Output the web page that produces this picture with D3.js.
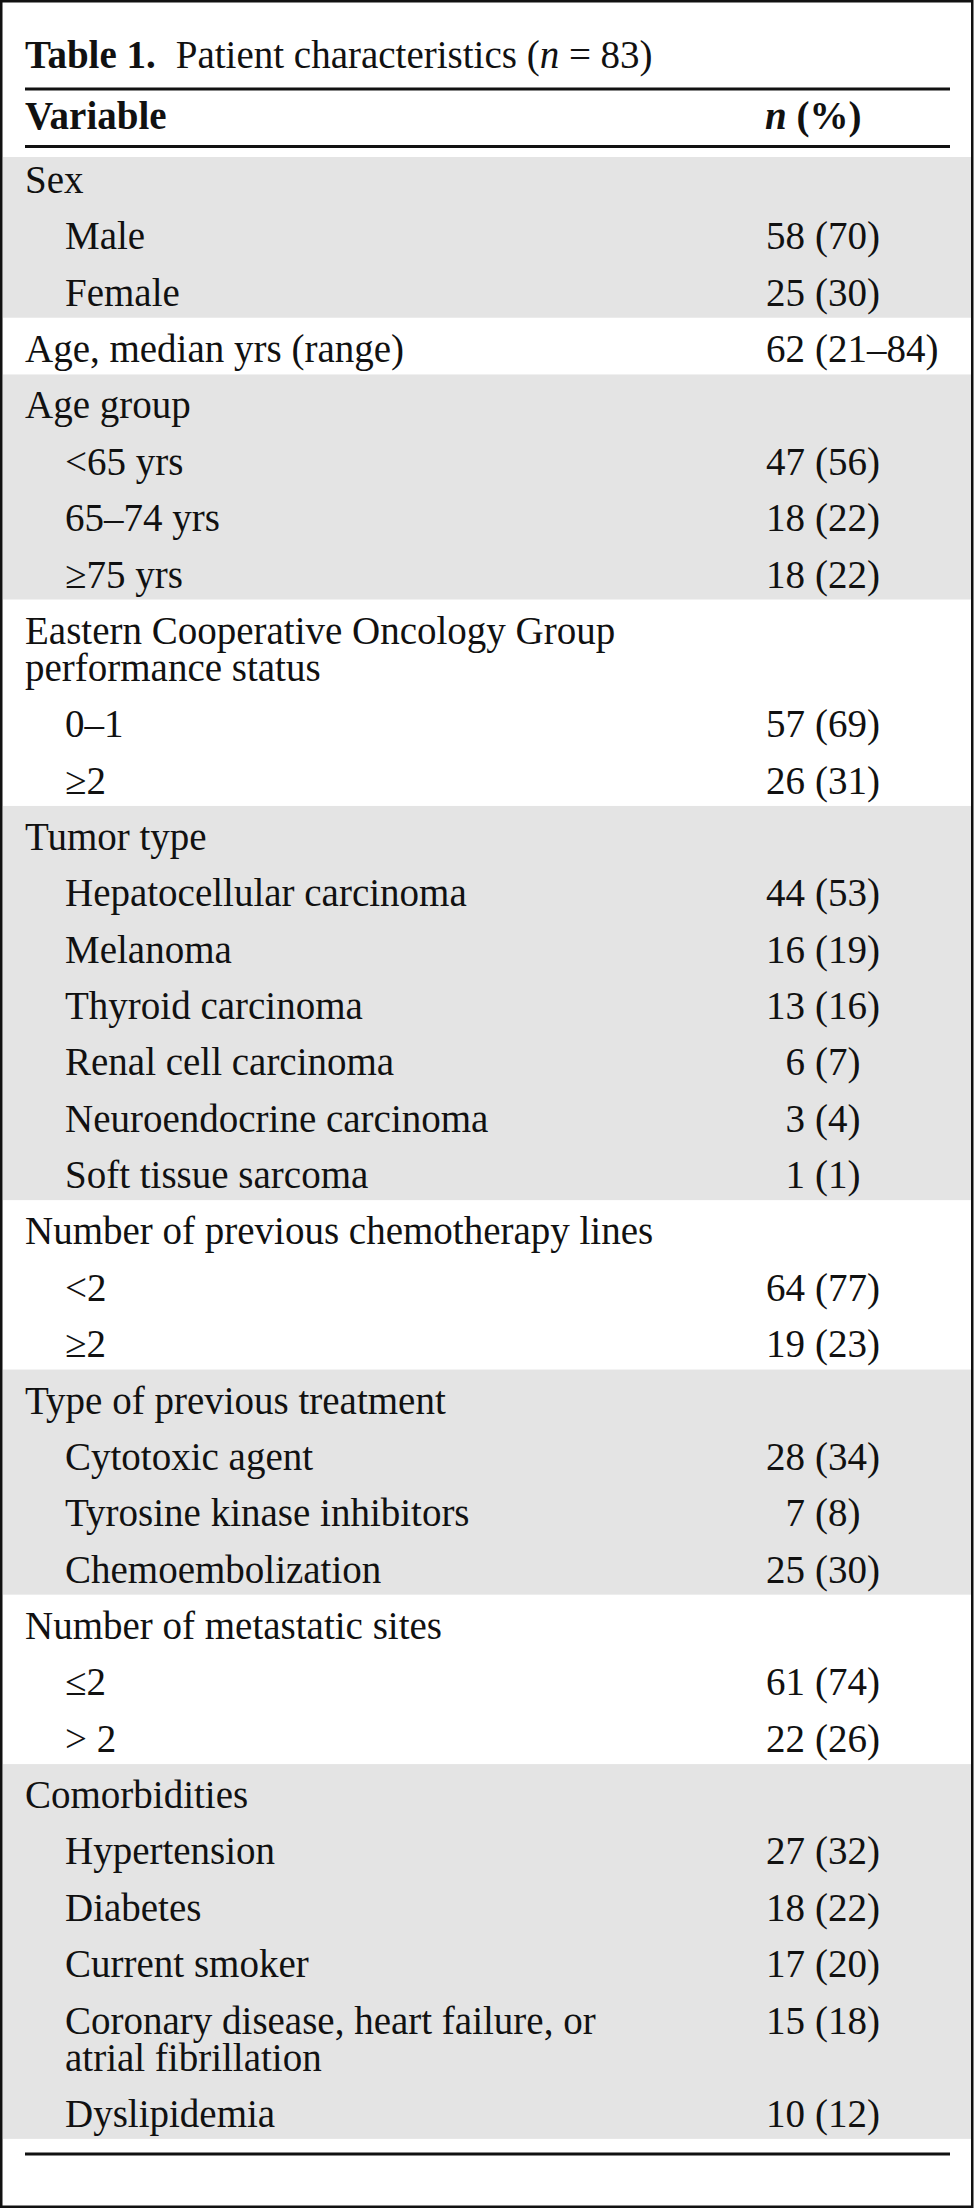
<!DOCTYPE html>
<html>
<head>
<meta charset="utf-8">
<script src="https://cdn.jsdelivr.net/npm/d3@7"></script>
<style>
  html, body { margin: 0; padding: 0; background: #fff; }
  svg { display: block; }
  text { font-family: "Liberation Serif", "Times New Roman", Times, serif; fill: #111; }
</style>
</head>
<body>
<svg id="chart" width="975" height="2208"></svg>
<script>
// ---------- data ----------
const titleBold = "Table 1.";
const titleText = "Patient characteristics (";
const titleN = "n";
const titleEnd = " = 83)";
const headerVariable = "Variable";
const headerValue = ["n", " (%)"];

const rowLabels = [
  "Sex", "Male", "Female",
  "Age, median yrs (range)",
  "Age group", "<65 yrs", "65–74 yrs", "≥75 yrs",
  "Eastern Cooperative Oncology Group\nperformance status", "0–1", "≥2",
  "Tumor type", "Hepatocellular carcinoma", "Melanoma", "Thyroid carcinoma",
  "Renal cell carcinoma", "Neuroendocrine carcinoma", "Soft tissue sarcoma",
  "Number of previous chemotherapy lines", "<2", "≥2",
  "Type of previous treatment", "Cytotoxic agent", "Tyrosine kinase inhibitors", "Chemoembolization",
  "Number of metastatic sites", "≤2", "> 2",
  "Comorbidities", "Hypertension", "Diabetes", "Current smoker",
  "Coronary disease, heart failure, or\natrial fibrillation", "Dyslipidemia"
];
const rowIndent = [
  0, 1, 1,
  0,
  0, 1, 1, 1,
  0, 1, 1,
  0, 1, 1, 1, 1, 1, 1,
  0, 1, 1,
  0, 1, 1, 1,
  0, 1, 1,
  0, 1, 1, 1, 1, 1
];
const rowGroup = [
  0, 0, 0,
  1,
  2, 2, 2, 2,
  3, 3, 3,
  4, 4, 4, 4, 4, 4, 4,
  5, 5, 5,
  6, 6, 6, 6,
  7, 7, 7,
  8, 8, 8, 8, 8, 8
];
const rowN = [
  "", "58", "25",
  "62",
  "", "47", "18", "18",
  "", "57", "26",
  "", "44", "16", "13", "6", "3", "1",
  "", "64", "19",
  "", "28", "7", "25",
  "", "61", "22",
  "", "27", "18", "17", "15", "10"
];
const rowPct = [
  "", "(70)", "(30)",
  "(21–84)",
  "", "(56)", "(22)", "(22)",
  "", "(69)", "(31)",
  "", "(53)", "(19)", "(16)", "(7)", "(4)", "(1)",
  "", "(77)", "(23)",
  "", "(34)", "(8)", "(30)",
  "", "(74)", "(26)",
  "", "(32)", "(22)", "(20)", "(18)", "(12)"
];
const groupShaded = [true, false, true, false, true, false, true, false, true];

// ---------- layout ----------
const W = 975, H = 2208;
const fontSize = 39;
const pitch = 56.36, lineGap = 37;
const xLabel = d3.scaleOrdinal().domain([0, 1]).range([25, 65]);
const xNumEnd = 805, xPctStart = 815;
const yRow = d3.scaleLinear().domain([0, 1]).range([193, 193 + pitch]);

const rows = rowLabels.map((lab, i) => ({
  lines: lab.split("\n"), indent: rowIndent[i], group: rowGroup[i], n: rowN[i], pct: rowPct[i]
}));
let extra = 0;
rows.forEach((r, i) => {
  r.y = yRow(i) + extra * lineGap;
  r.yLast = r.y + (r.lines.length - 1) * lineGap;
  extra += r.lines.length - 1;
});

const svg = d3.select("#chart");
svg.append("rect").attr("width", W).attr("height", H).attr("fill", "#fff");

// group bands
const groups = d3.groups(rows, r => r.group);
groups.forEach(([g, rs], gi) => {
  if (!groupShaded[g]) return;
  const top = gi === 0 ? 157 : rs[0].y - 44;
  const bottom = rs[rs.length - 1].yLast + 12;
  svg.append("rect").attr("x", 3).attr("y", top).attr("width", 969).attr("height", bottom - top)
    .attr("fill", "#e4e4e4");
});

// title
const t = svg.append("text").attr("x", 25).attr("y", 68).attr("font-size", fontSize);
t.append("tspan").attr("font-weight", "bold").text(titleBold);
t.append("tspan").attr("dx", 20).text(titleText);
t.append("tspan").attr("font-style", "italic").text(titleN);
t.append("tspan").text(titleEnd);

// rules
const rules = [{ y: 89, w: 3 }, { y: 146.5, w: 3 }, { y: 2154, w: 3 }];
svg.selectAll("line.rule").data(rules).join("line").attr("class", "rule")
  .attr("x1", 25).attr("x2", 950).attr("y1", d => d.y).attr("y2", d => d.y)
  .attr("stroke", "#111").attr("stroke-width", d => d.w);

// header
svg.append("text").attr("x", 25).attr("y", 129).attr("font-size", fontSize)
  .attr("font-weight", "bold").text(headerVariable);
const hv = svg.append("text").attr("x", 765).attr("y", 129).attr("font-size", fontSize).attr("font-weight", "bold");
hv.append("tspan").attr("font-style", "italic").text(headerValue[0]);
hv.append("tspan").text(headerValue[1]);

// rows
const rg = svg.selectAll("g.row").data(rows).join("g").attr("class", "row");
rg.append("text")
  .attr("x", d => xLabel(d.indent)).attr("y", d => d.y).attr("font-size", fontSize)
  .each(function (d) {
    d3.select(this).selectAll("tspan").data(d.lines).join("tspan")
      .attr("x", xLabel(d.indent)).attr("dy", (l, i) => i === 0 ? 0 : lineGap).text(l => l);
  });
rg.filter(d => d.n).append("text")
  .attr("x", xNumEnd).attr("y", d => d.y).attr("font-size", fontSize).attr("text-anchor", "end")
  .text(d => d.n);
rg.filter(d => d.pct).append("text")
  .attr("x", xPctStart).attr("y", d => d.y).attr("font-size", fontSize)
  .text(d => d.pct);

// outer border
svg.append("rect").attr("x", 1.25).attr("y", 1.25).attr("width", W - 4).attr("height", H - 2.5)
  .attr("fill", "none").attr("stroke", "#111").attr("stroke-width", 2.5);
</script>
</body>
</html>
